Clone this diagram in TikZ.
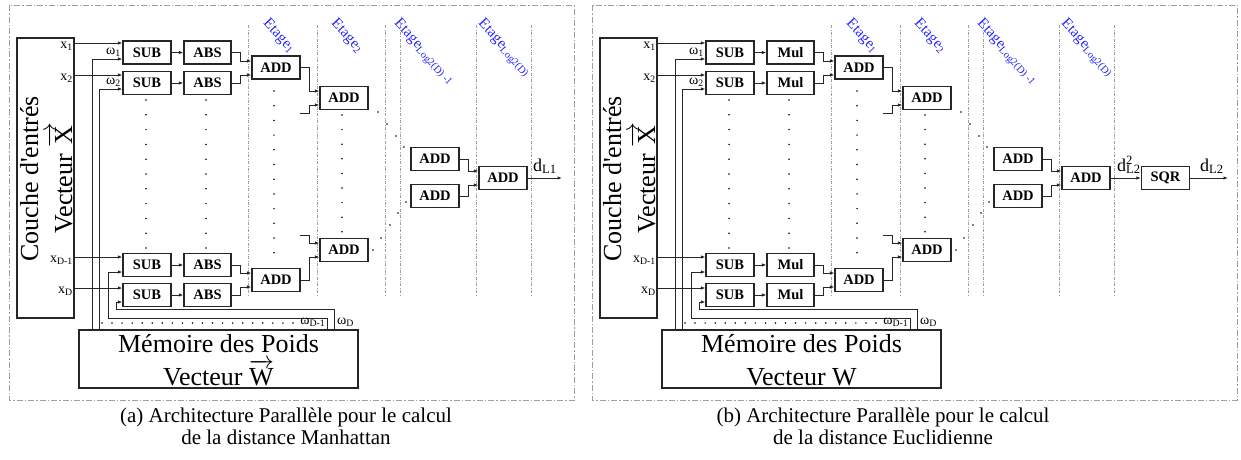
\documentclass[tikz,border=0pt]{standalone}
\usepackage{fontspec}
\setmainfont{Liberation Serif}
\usetikzlibrary{arrows.meta,calc}
\newcommand\mybigfont{\fontsize{26}{30}\selectfont}
\newcommand\mycapfont{\fontsize{21}{24}\selectfont}
\tikzset{
  box/.style={draw=black!85, fill=white, line width=1.2pt, minimum width=48pt, minimum height=23pt, inner sep=0pt, font=\fontsize{14.5}{16}\selectfont\bfseries},
  bigbox/.style={draw=black!85, line width=1.1pt, inner sep=0pt},
  wire/.style={line width=1pt, black!85},
  arr/.style={wire, -{Latex[length=4.5pt,width=3.5pt]}},
  lab/.style={inner sep=0pt, font=\fontsize{14}{16}\selectfont},
  dlab/.style={inner sep=0pt, font=\fontsize{18}{20}\selectfont},
  bigtxt/.style={inner sep=0pt, anchor=base, font=\mybigfont},
  stage/.style={gray!75, line width=0.6pt, dash pattern=on 3pt off 1.5pt on 0.8pt off 1.5pt},
  frame/.style={gray!75, line width=1pt, dash pattern=on 6pt off 2pt on 1.5pt off 2pt},
  etage/.style={text=blue!85!white, rotate=-47, anchor=north west, inner sep=0pt, font=\fontsize{15}{17}\selectfont},
  captxt/.style={inner sep=0pt, anchor=base, font=\mycapfont},
}
\newcommand\drawpanel[2]{%
  % stage separators
  \foreach \sx in {248,317,385,400,476,531} \draw[stage] (\sx,25) -- (\sx,297);
  \node[etage] (e1) at (270,17) {Etage\textsubscript{1}};
  \node[etage] (e2) at (338,17) {Etage\textsubscript{2}};
  \node[etage] (e3) at (401,17) {Etage\textsubscript{Log2(D) -1}};
  \node[etage] (e4) at (485,17) {Etage\textsubscript{Log2(D)}};
  % input layer
  \node[bigbox, minimum width=57pt, minimum height=280pt] (couche) at (45.5,178) {};
  \node[bigtxt, rotate=90] (ct1) at (38,179) {Couche d\textquotesingle entrés};
  \node[bigtxt, rotate=90] (ct2) at (72,178) {Vecteur $\overrightarrow{\mbox{X}}$};
  % weight memory
  \node[bigbox, minimum width=279pt, minimum height=58pt] (mem) at (218.5,359) {};
  \node[bigtxt] (mt1) at (218.5,352) {Mémoire des Poids};
  \node[bigtxt] (mt2) at (218.5,385) {#2};
  % operators
  \node[box] (sub1) at (147,52.5) {SUB};
  \node[box] (sub2) at (147,83) {SUB};
  \node[box] (subD1) at (147,265) {SUB};
  \node[box] (subD) at (147,295) {SUB};
  \node[box, minimum width=47pt] (abs1) at (207.5,52.5) {#1};
  \node[box, minimum width=47pt] (abs2) at (207.5,83) {#1};
  \node[box, minimum width=47pt] (absD1) at (207.5,265) {#1};
  \node[box, minimum width=47pt] (absD) at (207.5,295) {#1};
  \node[box] (add1) at (276,67.5) {ADD};
  \node[box] (add1b) at (276,280) {ADD};
  \node[box] (add2) at (344,98) {ADD};
  \node[box] (add2b) at (344,250) {ADD};
  \node[box] (adda) at (435,159) {ADD};
  \node[box] (addb) at (435,196) {ADD};
  \node[box] (addf) at (503,178) {ADD};
  % x inputs
  \draw[arr] (couche.east |- 0,43) -- (sub1.west |- 0,43);
  \draw[arr] (couche.east |- 0,75) -- (sub2.west |- 0,75);
  \draw[arr] (couche.east |- 0,257) -- (subD1.west |- 0,257);
  \draw[arr] (couche.east |- 0,288) -- (subD.west |- 0,288);
  \node[lab, anchor=base east] (lx1) at (73,48.5) {x\textsubscript{1}};
  \node[lab, anchor=base east] (lx2) at (73,80.5) {x\textsubscript{2}};
  \node[lab, anchor=base east] (lxD1) at (73,262) {x\textsubscript{D-1}};
  \node[lab, anchor=base east] (lxD) at (73,293) {x\textsubscript{D}};
  % weight inputs
  \draw[arr] (mem.north -| 92,0) |- (sub1.west |- 0,59);
  \draw[arr] (mem.north -| 99,0) |- (sub2.west |- 0,89);
  \draw[arr] (mem.north -| 327,0) -- (327,318) -| (108,272) -- (subD1.west |- 0,272);
  \draw[arr] (mem.north -| 334,0) -- (334,309) -| (116,302) -- (subD.west |- 0,302);
  \node[lab, anchor=base east] (lw1) at (121,54.5) {ω\textsubscript{1}};
  \node[lab, anchor=base east] (lw2) at (121,84.5) {ω\textsubscript{2}};
  \node[lab, anchor=base east] (lwD1) at (325.5,324) {ω\textsubscript{D-1}};
  \node[lab, anchor=base west] (lwD) at (337,324) {ω\textsubscript{D}};
  % SUB -> op
  \draw[arr] (sub1) -- (abs1);
  \draw[arr] (sub2) -- (abs2);
  \draw[arr] (subD1) -- (absD1);
  \draw[arr] (subD) -- (absD);
  % op -> ADD stage 1
  \draw[arr] (abs1.east) -| (240,61) -- (add1.west |- 0,61);
  \draw[arr] (abs2.east) -| (240,75) -- (add1.west |- 0,75);
  \draw[arr] (absD1.east) -| (240,273) -- (add1b.west |- 0,273);
  \draw[arr] (absD.east) -| (240,287) -- (add1b.west |- 0,287);
  % stage 1 -> stage 2
  \coordinate (st1) at (300,113);
  \coordinate (st2) at (300,235);
  \draw[arr] (add1.east) -| (309,91) -- (add2.west |- 0,91);
  \draw[arr] (st1) -| (309,105) -- (add2.west |- 0,105);
  \draw[arr] (st2) -| (309,243) -- (add2b.west |- 0,243);
  \draw[arr] (add1b.east) -| (309,257) -- (add2b.west |- 0,257);
  % last stages
  \draw[arr] (adda.east) -| (468,171) -- (addf.west |- 0,171);
  \draw[arr] (addb.east) -| (468,185) -- (addf.west |- 0,185);
  % dots
  \foreach \k in {0,...,10} {\fill (146,100+14.8*\k) circle (0.85); \fill (206,100+14.8*\k) circle (0.85);}
  \foreach \k in {0,...,11} \fill (274,91+14.7*\k) circle (0.85);
  \foreach \k in {0,...,8} \fill (342,115+14.6*\k) circle (0.85);
  \foreach \p in {(378,112),(387,124),(396,136),(404,147),(373,250),(381,238),(390,225),(398,213),(406,202)} \fill \p circle (0.85);
  \foreach \k in {0,...,19} \fill (102+10.05*\k,323) circle (0.85);
}
\begin{document}
\begin{tikzpicture}[x=1pt,y=-1pt]
\useasboundingbox (0,0) rectangle (1241,459);
\draw[frame] (9,5) rectangle (574,400);
\draw[frame] (592,5) rectangle (1237,400);
\begin{scope}[name prefix=L-]
  \drawpanel{ABS}{Vecteur $\overrightarrow{\mbox{W}}$}
  \coordinate (out) at (562,178);
  \draw[arr] (addf) -- (out);
  \node[dlab, anchor=base west] (dl1) at (533,171) {d\textsubscript{L1}};
\end{scope}
\begin{scope}[xshift=583pt, name prefix=R-]
  \drawpanel{Mul}{Vecteur W}
  \node[box] (sqr) at (582.5,178) {SQR};
  \coordinate (out) at (645,178);
  \draw[arr] (addf) -- (sqr);
  \draw[arr] (sqr) -- (out);
  \node[dlab, anchor=base west] (dl2a) at (534,171) {d\rlap{\textsuperscript{2}}\textsubscript{L2}};
  \node[dlab, anchor=base west] (dl2b) at (617,171) {d\textsubscript{L2}};
\end{scope}
\node[captxt] (ca1) at (286,422) {(a) Architecture Parallèle pour le calcul};
\node[captxt] (ca2) at (286,444) {de la distance Manhattan};
\node[captxt] (cb1) at (883,422) {(b) Architecture Parallèle pour le calcul};
\node[captxt] (cb2) at (883,444) {de la distance Euclidienne};
\end{tikzpicture}
\end{document}
